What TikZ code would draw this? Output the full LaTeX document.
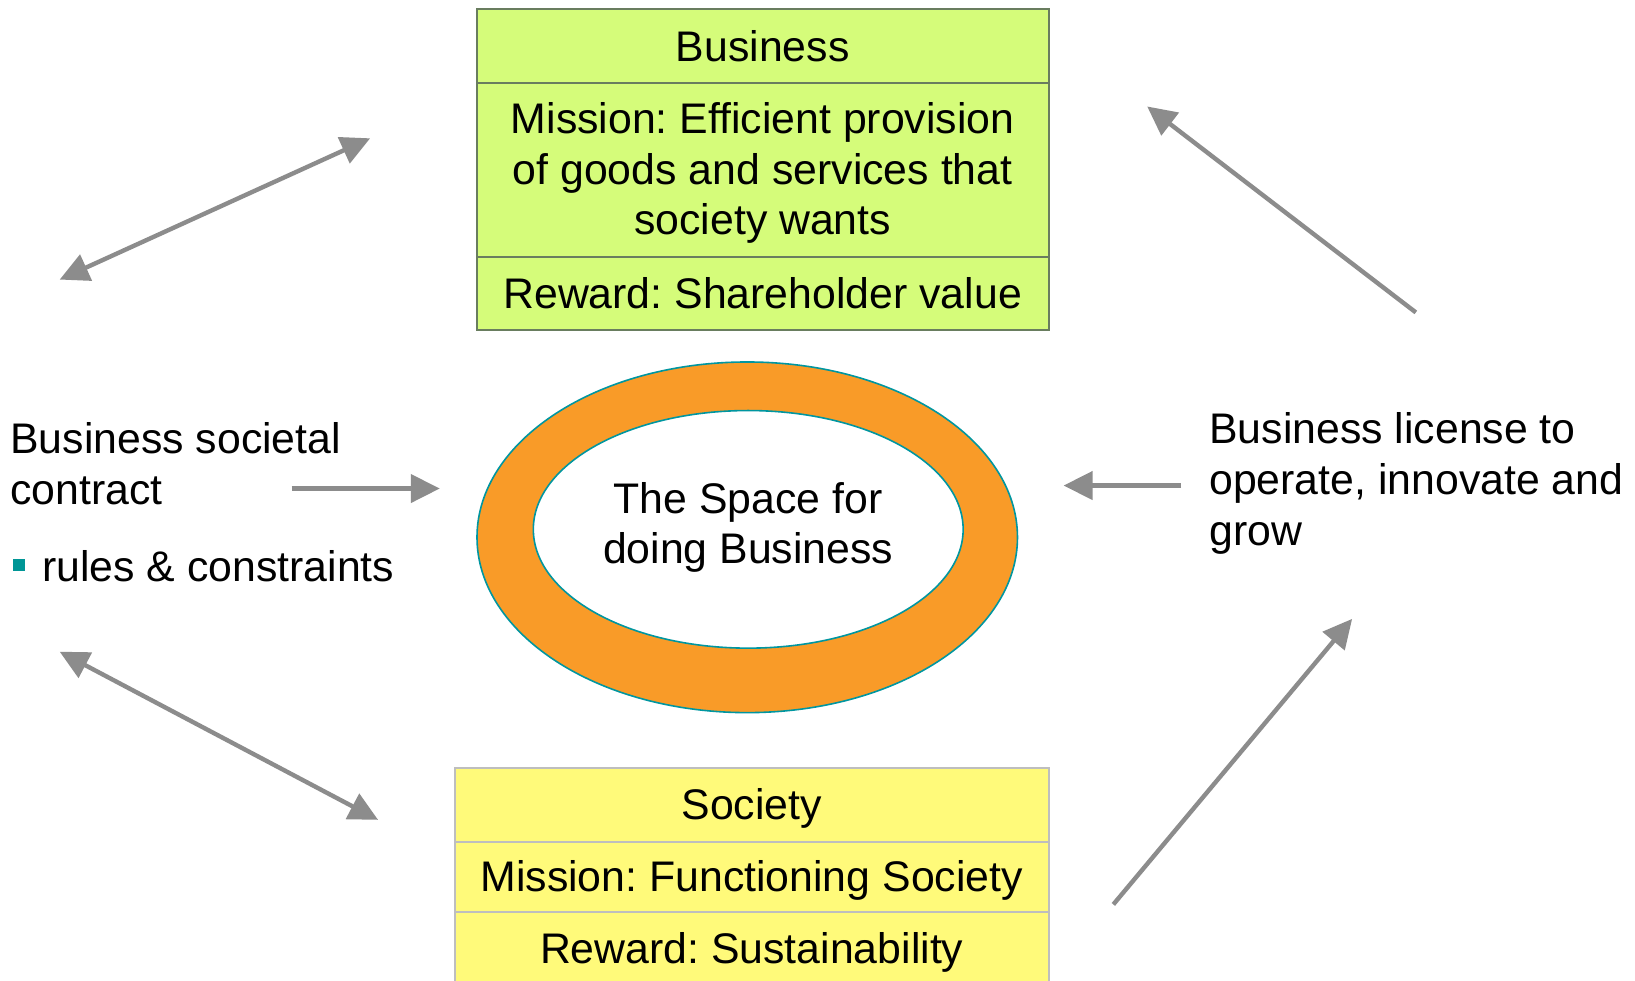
\documentclass[tikz,border=0pt]{standalone}
\usepackage{fontspec}
\setmainfont{Liberation Sans}
\usetikzlibrary{arrows.meta}
\definecolor{bizfill}{RGB}{213,252,122}
\definecolor{bizline}{RGB}{105,125,95}
\definecolor{socfill}{RGB}{255,250,122}
\definecolor{socline}{RGB}{190,190,190}
\definecolor{ringfill}{RGB}{249,155,40}
\definecolor{ringline}{RGB}{0,150,160}
\definecolor{arrgray}{RGB}{140,140,140}
\definecolor{bulteal}{RGB}{0,150,150}
\frenchspacing
\begin{document}
\begin{tikzpicture}[x=0.5pt,y=-0.5pt,
  txt/.style={font=\fontsize{21.4}{25.4}\selectfont},
  bizcell/.style={txt, draw=bizline, fill=bizfill, line width=1pt, minimum width=286pt, inner sep=0pt, align=center},
  soccell/.style={txt, draw=socline, fill=socfill, line width=1pt, minimum width=297pt, inner sep=0pt, align=center},
  conn/.style={draw=arrgray, line width=2.2pt, -{Triangle[length=14.5pt,width=14pt]}},
  dconn/.style={draw=arrgray, line width=2.2pt, {Triangle[length=14.5pt,width=14pt]}-{Triangle[length=14.5pt,width=14pt]}}]
\useasboundingbox (0,0) rectangle (1635,981);
\clip (0,0) rectangle (1635,981);
\fill[white] (0,0) rectangle (1635,981);
\begin{scope}[scale=0.995]
% Business box
\node[bizcell, minimum height=36.8pt] (btitle) at (766.5,46) {Business};
\node[bizcell, minimum height=87.1pt] (bmission) at (766.5,170.5) {\rule{0pt}{18.8pt}Mission: Efficient provision\\of goods and services that\\society wants};
\node[bizcell, minimum height=36.8pt] (breward) at (766.5,295) {Reward: Shareholder value};

% Society box
\node[soccell, minimum height=36.8pt] (stitle) at (755.5,809) {\rule{0pt}{18.6pt}Society};
\node[soccell, minimum height=35.3pt] (smission) at (755.5,881.5) {\rule{0pt}{18.6pt}Mission: Functioning Society};
\node[soccell, minimum height=40pt] (sreward) at (755.5,957) {Reward: Sustainability};

% Ring
\fill[ringfill, even odd rule] (751,540) ellipse [x radius=135.8pt, y radius=88.1pt]
  (752,532) ellipse [x radius=108pt, y radius=59.7pt];
\draw[ringline, line width=0.8pt] (751,540) ellipse [x radius=135.8pt, y radius=88.1pt];
\draw[ringline, line width=0.8pt] (752,532) ellipse [x radius=108pt, y radius=59.7pt];
\node[txt, align=center, inner sep=0pt] (space) at (752,530) {The Space for\\doing Business};

% Side labels
\node[txt, align=left, anchor=west, inner sep=0pt] (contract) at (10,466) {Business societal\\contract};
\node[fill=bulteal, inner sep=0pt, minimum size=6pt] (bul) at (19,568) {};
\node[txt, anchor=base west, inner sep=0pt] (rules) at (42,584) {rules \& constraints};
\node[txt, align=left, anchor=west, inner sep=0pt] (license) at (1215,486) {Business license to\\operate, innovate and\\grow};

% Arrow end points
\coordinate (tl1) at (60,281);   \coordinate (tl2) at (372,139);
\coordinate (bl1) at (60,655);   \coordinate (bl2) at (380,824);
\coordinate (c1) at (293,491);   \coordinate (c2) at (442,491);
\coordinate (l1) at (1187,488);  \coordinate (l2) at (1069,488);
\coordinate (tr1) at (1423,314); \coordinate (tr2) at (1153,107);
\coordinate (br1) at (1119,909); \coordinate (br2) at (1359,622);

\draw[dconn] (tl1) -- (tl2);
\draw[dconn] (bl1) -- (bl2);
\draw[conn] (c1) -- (c2);
\draw[conn] (l1) -- (l2);
\draw[conn] (tr1) -- (tr2);
\draw[conn] (br1) -- (br2);
\end{scope}
\end{tikzpicture}
\end{document}
